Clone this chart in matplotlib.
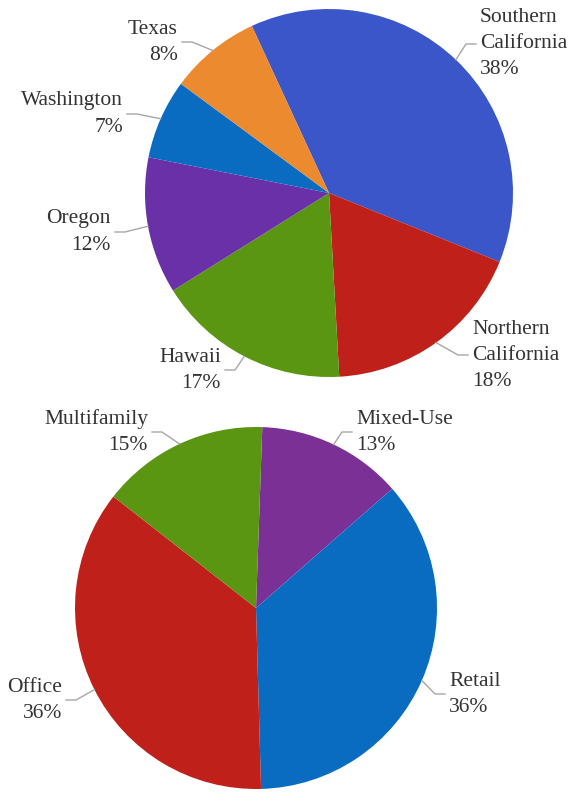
import numpy as np
import matplotlib.pyplot as plt

# region pie
regions = ['Southern\nCalifornia', 'Northern\nCalifornia', 'Hawaii', 'Oregon', 'Washington', 'Texas']
region_pct = [38, 18, 17, 12, 7, 8]
region_colors = ['#3a56c8', '#c0201a', '#5a9612', '#6a30a8', '#0a6cc0', '#ec8a30']

# property type pie
ptypes = ['Mixed-Use', 'Retail', 'Office', 'Multifamily']
ptype_pct = [13, 36, 36, 15]
ptype_colors = ['#7b3096', '#0a6cc0', '#c0201a', '#5a9612']

W, H = 569, 794
fig = plt.figure(figsize=(W / 100, H / 100), dpi=100)
ax = fig.add_axes([0, 0, 1, 1])
ax.set_xlim(0, W)
ax.set_ylim(0, H)
ax.set_aspect('equal')
ax.axis('off')

serif = ['Liberation Serif', 'DejaVu Serif']


def draw_pie(names, pct, colors, center, radius, start, spots):
    wedges, _ = ax.pie(pct, colors=colors, startangle=start, counterclock=False,
                       center=center, radius=radius, frame=True,
                       wedgeprops=dict(linewidth=0))
    for w, name, p, (tx, ty, ha) in zip(wedges, names, pct, spots):
        mid = np.deg2rad((w.theta1 + w.theta2) / 2)
        ex = center[0] + radius * np.cos(mid)
        ey = center[1] + radius * np.sin(mid)
        ty = H - ty
        side = 1 if ha == 'left' else -1
        x0 = tx - side * 4
        x1 = tx - side * 14
        ax.plot([x0, x1, ex], [ty, ty, ey], color='#a6a6a6', lw=1.0, zorder=3)
        ax.text(tx, ty, '%s\n%d%%' % (name, p), ha=ha, va='center',
                fontsize=15.5, color='#333333', linespacing=1.5, family=serif)


draw_pie(regions, region_pct, region_colors, (329, H - 193), 184, 114.8,
         [(480, 44, 'left'), (472, 355, 'left'), (221, 370, 'right'),
          (111, 232, 'right'), (123, 114, 'right'), (178, 42, 'right')])

draw_pie(ptypes, ptype_pct, ptype_colors, (256, H - 608), 181, 88,
         [(356, 432, 'left'), (449, 694, 'left'), (62, 700, 'right'),
          (148, 432, 'right')])

ax.set_xlim(0, W)
ax.set_ylim(0, H)
ax.axis('off')

plt.savefig('out.png', dpi=100)
